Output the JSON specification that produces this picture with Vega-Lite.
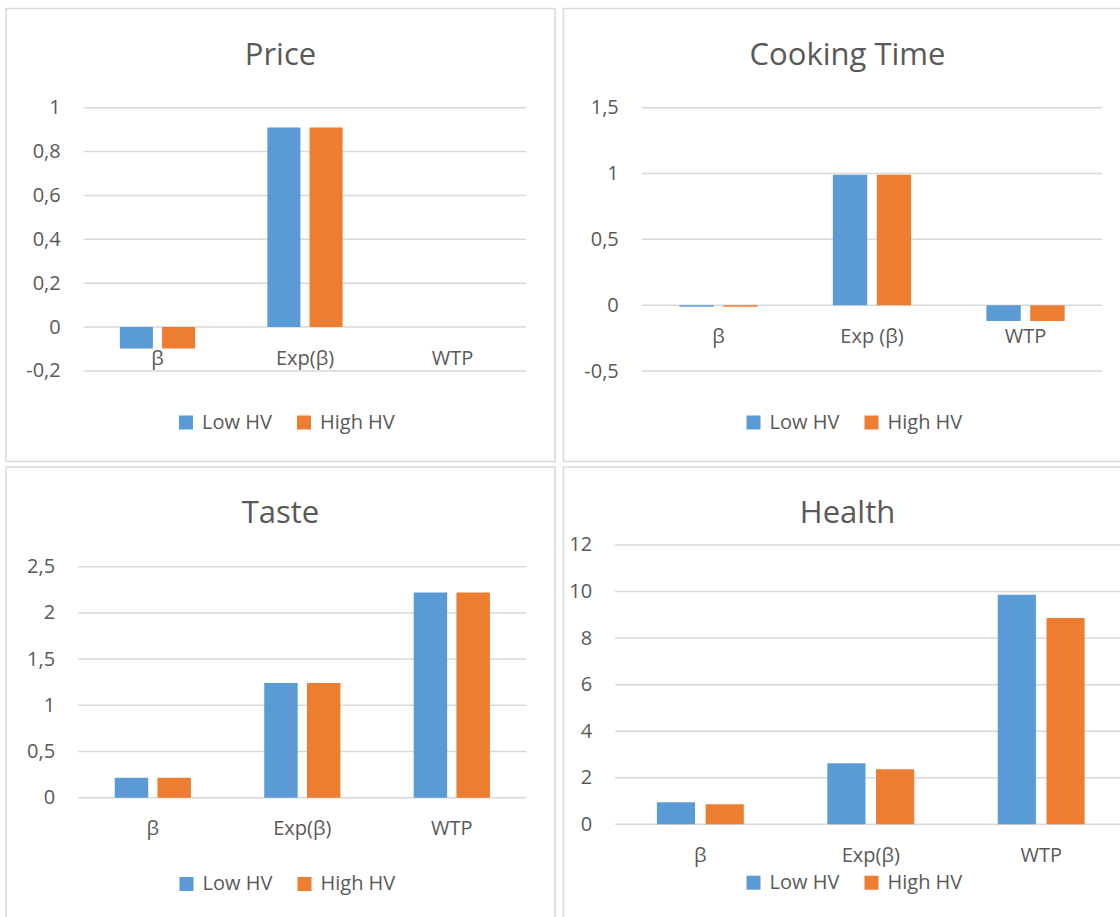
{
  "$schema": "https://vega.github.io/schema/vega-lite/v6.json",
  "background": "white",
  "padding": {"left": 5, "top": 7.5, "right": -12, "bottom": -3},
  "spacing": 3.5,
  "datasets": {
    "bars": [
      {"attr": "Price", "cat": "β", "group": "Low HV", "value": -0.097},
      {"attr": "Price", "cat": "β", "group": "High HV", "value": -0.097},
      {"attr": "Price", "cat": "Exp(β)", "group": "Low HV", "value": 0.91},
      {"attr": "Price", "cat": "Exp(β)", "group": "High HV", "value": 0.91},
      {"attr": "Price", "cat": "WTP", "group": "Low HV", "value": null},
      {"attr": "Price", "cat": "WTP", "group": "High HV", "value": null},
      {"attr": "Cooking", "cat": "β", "group": "Low HV", "value": -0.012},
      {"attr": "Cooking", "cat": "β", "group": "High HV", "value": -0.012},
      {"attr": "Cooking", "cat": "Exp (β)", "group": "Low HV", "value": 0.99},
      {"attr": "Cooking", "cat": "Exp (β)", "group": "High HV", "value": 0.99},
      {"attr": "Cooking", "cat": "WTP", "group": "Low HV", "value": -0.12},
      {"attr": "Cooking", "cat": "WTP", "group": "High HV", "value": -0.12},
      {"attr": "Taste", "cat": "β", "group": "Low HV", "value": 0.216},
      {"attr": "Taste", "cat": "β", "group": "High HV", "value": 0.216},
      {"attr": "Taste", "cat": "Exp(β)", "group": "Low HV", "value": 1.24},
      {"attr": "Taste", "cat": "Exp(β)", "group": "High HV", "value": 1.24},
      {"attr": "Taste", "cat": "WTP", "group": "Low HV", "value": 2.22},
      {"attr": "Taste", "cat": "WTP", "group": "High HV", "value": 2.22},
      {"attr": "Health", "cat": "β", "group": "Low HV", "value": 0.945},
      {"attr": "Health", "cat": "β", "group": "High HV", "value": 0.86},
      {"attr": "Health", "cat": "Exp(β)", "group": "Low HV", "value": 2.62},
      {"attr": "Health", "cat": "Exp(β)", "group": "High HV", "value": 2.37},
      {"attr": "Health", "cat": "WTP", "group": "Low HV", "value": 9.86},
      {"attr": "Health", "cat": "WTP", "group": "High HV", "value": 8.86}
    ],
    "grid": [
      {"attr": "Price", "tick": -0.2}, {"attr": "Price", "tick": 0}, {"attr": "Price", "tick": 0.2},
      {"attr": "Price", "tick": 0.4}, {"attr": "Price", "tick": 0.6}, {"attr": "Price", "tick": 0.8},
      {"attr": "Price", "tick": 1},
      {"attr": "Cooking", "tick": -0.5}, {"attr": "Cooking", "tick": 0}, {"attr": "Cooking", "tick": 0.5},
      {"attr": "Cooking", "tick": 1}, {"attr": "Cooking", "tick": 1.5},
      {"attr": "Taste", "tick": 0}, {"attr": "Taste", "tick": 0.5}, {"attr": "Taste", "tick": 1},
      {"attr": "Taste", "tick": 1.5}, {"attr": "Taste", "tick": 2}, {"attr": "Taste", "tick": 2.5},
      {"attr": "Health", "tick": 0}, {"attr": "Health", "tick": 2}, {"attr": "Health", "tick": 4},
      {"attr": "Health", "tick": 6}, {"attr": "Health", "tick": 8}, {"attr": "Health", "tick": 10},
      {"attr": "Health", "tick": 12}
    ]
  },
  "vconcat": [
    {
      "spacing": 6.5,
      "resolve": {"scale": {"x": "independent", "y": "independent", "color": "independent", "xOffset": "independent"}, "legend": {"color": "independent"}, "axis": {"y": "independent"}},
      "hconcat": [
        {
          "width": 549, "height": 453,
          "title": {"text": "Price", "frame": "group", "anchor": "middle", "offset": -78, "baseline": "middle", "fontSize": 31, "font": "Open Sans", "fontWeight": "normal", "color": "#595959"},
          "layer": [
            {
              "data": {"name": "grid"},
              "transform": [{"filter": "datum.attr === 'Price'"}],
              "mark": {"type": "rule", "color": "#d9d9d9", "strokeWidth": 1.5},
              "encoding": {
                "y": {"field": "tick", "type": "quantitative",
                      "scale": {"domain": [-0.6125, 1.452], "nice": false, "zero": false},
                      "axis": {"values": [-0.2, 0, 0.2, 0.4, 0.6, 0.8, 1], "format": "~g", "labelExpr": "replace(replace(datum.label, '.', ','), '−', '-')", "offset": -77.7, "labelPadding": 23.5}},
                "x": {"datum": "β", "type": "nominal", "bandPosition": 0, "axis": null},
                "x2": {"datum": "WTP", "bandPosition": 1}
              }
            },
            {
              "data": {"name": "bars"},
              "transform": [{"filter": "datum.attr === 'Price'"}],
              "mark": {"type": "bar"},
              "encoding": {
                "x": {"field": "cat", "type": "nominal", "axis": null, "sort": null,
                      "scale": {"domain": ["β", "Exp(β)", "WTP"], "paddingInner": 0, "paddingOuter": 0.361, "align": 0.73}},
                "xOffset": {"field": "group", "type": "nominal", "sort": null, "scale": {"domain": ["Low HV", "High HV"], "paddingInner": 0.217, "paddingOuter": 0.857}},
                "y": {"field": "value", "type": "quantitative"},
                "color": {"field": "group", "type": "nominal",
                          "scale": {"domain": ["Low HV", "High HV"], "range": ["#5B9BD5", "#ED7D31"]},
                          "legend": {"orient": "none", "legendX": 170, "legendY": 404}}
              }
            },
            {
              "data": {"name": "bars"},
              "transform": [{"filter": "datum.attr === 'Price' && datum.group === 'Low HV'"}],
              "mark": {"type": "text", "dy": 32, "baseline": "middle", "fontSize": 20, "font": "Open Sans", "color": "#595959"},
              "encoding": {
                "x": {"field": "cat", "type": "nominal", "axis": null, "sort": null},
                "y": {"datum": 0, "type": "quantitative"},
                "text": {"field": "cat"}
              }
            }
          ]
        },
        {
          "width": 568, "height": 453,
          "title": {"text": "Cooking Time", "frame": "group", "anchor": "middle", "offset": -78, "baseline": "middle", "fontSize": 31, "font": "Open Sans", "fontWeight": "normal", "color": "#595959"},
          "layer": [
            {
              "data": {"name": "grid"},
              "transform": [{"filter": "datum.attr === 'Cooking'"}],
              "mark": {"type": "rule", "color": "#d9d9d9", "strokeWidth": 1.5},
              "encoding": {
                "y": {"field": "tick", "type": "quantitative",
                      "scale": {"domain": [-1.1874, 2.2535], "nice": false, "zero": false},
                      "axis": {"values": [-0.5, 0, 0.5, 1, 1.5], "format": "~g", "labelExpr": "replace(replace(datum.label, '.', ','), '−', '-')", "offset": -78.25, "labelPadding": 23.5}},
                "x": {"datum": "β", "type": "nominal", "bandPosition": 0, "axis": null},
                "x2": {"datum": "WTP", "bandPosition": 1}
              }
            },
            {
              "data": {"name": "bars"},
              "transform": [{"filter": "datum.attr === 'Cooking'"}],
              "mark": {"type": "bar"},
              "encoding": {
                "x": {"field": "cat", "type": "nominal", "axis": null, "sort": null,
                      "scale": {"domain": ["β", "Exp (β)", "WTP"], "paddingInner": 0, "paddingOuter": 0.35, "align": 0.728}},
                "xOffset": {"field": "group", "type": "nominal", "sort": null, "scale": {"domain": ["Low HV", "High HV"], "paddingInner": 0.217, "paddingOuter": 0.857}},
                "y": {"field": "value", "type": "quantitative"},
                "color": {"field": "group", "type": "nominal",
                          "scale": {"domain": ["Low HV", "High HV"], "range": ["#5B9BD5", "#ED7D31"]},
                          "legend": {"orient": "none", "legendX": 180, "legendY": 404}}
              }
            },
            {
              "data": {"name": "bars"},
              "transform": [{"filter": "datum.attr === 'Cooking' && datum.group === 'Low HV'"}],
              "mark": {"type": "text", "dy": 32, "baseline": "middle", "fontSize": 20, "font": "Open Sans", "color": "#595959"},
              "encoding": {
                "x": {"field": "cat", "type": "nominal", "axis": null, "sort": null},
                "y": {"datum": 0, "type": "quantitative"},
                "text": {"field": "cat"}
              }
            }
          ]
        }
      ]
    },
    {
      "spacing": 6.5,
      "resolve": {"scale": {"x": "independent", "y": "independent", "color": "independent", "xOffset": "independent"}, "legend": {"color": "independent"}, "axis": {"y": "independent"}},
      "hconcat": [
        {
          "width": 549, "height": 453,
          "title": {"text": "Taste", "frame": "group", "anchor": "middle", "offset": -78, "baseline": "middle", "fontSize": 31, "font": "Open Sans", "fontWeight": "normal", "color": "#595959"},
          "layer": [
            {
              "data": {"name": "grid"},
              "transform": [{"filter": "datum.attr === 'Taste'"}],
              "mark": {"type": "rule", "color": "#d9d9d9", "strokeWidth": 1.5},
              "encoding": {
                "y": {"field": "tick", "type": "quantitative",
                      "scale": {"domain": [-1.3236, 3.579], "nice": false, "zero": false},
                      "axis": {"values": [0, 0.5, 1, 1.5, 2, 2.5], "format": "~g", "labelExpr": "replace(replace(datum.label, '.', ','), '−', '-')", "offset": -72.1, "labelPadding": 23.5}},
                "x": {"datum": "β", "type": "nominal", "bandPosition": 0, "axis": null},
                "x2": {"datum": "WTP", "bandPosition": 1}
              }
            },
            {
              "data": {"name": "bars"},
              "transform": [{"filter": "datum.attr === 'Taste'"}],
              "mark": {"type": "bar"},
              "encoding": {
                "x": {"field": "cat", "type": "nominal", "axis": null, "sort": null,
                      "scale": {"domain": ["β", "Exp(β)", "WTP"], "paddingInner": 0, "paddingOuter": 0.3364, "align": 0.717}},
                "xOffset": {"field": "group", "type": "nominal", "sort": null, "scale": {"domain": ["Low HV", "High HV"], "paddingInner": 0.217, "paddingOuter": 0.857}},
                "y": {"field": "value", "type": "quantitative"},
                "color": {"field": "group", "type": "nominal",
                          "scale": {"domain": ["Low HV", "High HV"], "range": ["#5B9BD5", "#ED7D31"]},
                          "legend": {"orient": "none", "legendX": 170.5, "legendY": 407}}
              }
            },
            {
              "data": {"name": "bars"},
              "transform": [{"filter": "datum.attr === 'Taste' && datum.group === 'Low HV'"}],
              "mark": {"type": "text", "dy": 31, "baseline": "middle", "fontSize": 20, "font": "Open Sans", "color": "#595959"},
              "encoding": {
                "x": {"field": "cat", "type": "nominal", "axis": null, "sort": null},
                "y": {"datum": 0, "type": "quantitative"},
                "text": {"field": "cat"}
              }
            }
          ]
        },
        {
          "width": 568, "height": 453,
          "title": {"text": "Health", "frame": "group", "anchor": "middle", "offset": -78, "baseline": "middle", "fontSize": 31, "font": "Open Sans", "fontWeight": "normal", "color": "#595959"},
          "layer": [
            {
              "data": {"name": "grid"},
              "transform": [{"filter": "datum.attr === 'Health'"}],
              "mark": {"type": "rule", "color": "#d9d9d9", "strokeWidth": 1.5},
              "encoding": {
                "y": {"field": "tick", "type": "quantitative",
                      "scale": {"domain": [-4.112, 15.351], "nice": false, "zero": false},
                      "axis": {"values": [0, 2, 4, 6, 8, 10, 12], "format": "~g", "labelExpr": "replace(replace(datum.label, '.', ','), '−', '-')", "offset": -51.6, "labelPadding": 23.5}},
                "x": {"datum": "β", "type": "nominal", "bandPosition": 0, "axis": null},
                "x2": {"datum": "WTP", "bandPosition": 1}
              }
            },
            {
              "data": {"name": "bars"},
              "transform": [{"filter": "datum.attr === 'Health'"}],
              "mark": {"type": "bar"},
              "encoding": {
                "x": {"field": "cat", "type": "nominal", "axis": null, "sort": null,
                      "scale": {"domain": ["β", "Exp(β)", "WTP"], "paddingInner": 0, "paddingOuter": 0.1665, "align": 0.91}},
                "xOffset": {"field": "group", "type": "nominal", "sort": null, "scale": {"domain": ["Low HV", "High HV"], "paddingInner": 0.217, "paddingOuter": 0.857}},
                "y": {"field": "value", "type": "quantitative"},
                "color": {"field": "group", "type": "nominal",
                          "scale": {"domain": ["Low HV", "High HV"], "range": ["#5B9BD5", "#ED7D31"]},
                          "legend": {"orient": "none", "legendX": 180, "legendY": 405.7}}
              }
            },
            {
              "data": {"name": "bars"},
              "transform": [{"filter": "datum.attr === 'Health' && datum.group === 'Low HV'"}],
              "mark": {"type": "text", "dy": 32, "baseline": "middle", "fontSize": 20, "font": "Open Sans", "color": "#595959"},
              "encoding": {
                "x": {"field": "cat", "type": "nominal", "axis": null, "sort": null},
                "y": {"datum": 0, "type": "quantitative"},
                "text": {"field": "cat"}
              }
            }
          ]
        }
      ]
    }
  ],
  "resolve": {"scale": {"x": "independent", "y": "independent", "color": "independent", "xOffset": "independent"}, "legend": {"color": "independent"}, "axis": {"y": "independent"}},
  "config": {
    "view": {"stroke": "#d9d9d9", "strokeWidth": 1.5},
    "axis": {"grid": false, "domain": false, "ticks": false, "tickSize": 0, "title": null, "labelFont": "Open Sans", "labelFontSize": 20, "labelColor": "#595959"},
    "legend": {"direction": "horizontal", "title": null, "symbolType": "square", "symbolSize": 196, "symbolStrokeWidth": 0, "labelFont": "Open Sans", "labelFontSize": 20, "labelColor": "#595959", "columnPadding": 22, "labelOffset": 6, "padding": 0},
    "bar": {"stroke": null}
  }
}
